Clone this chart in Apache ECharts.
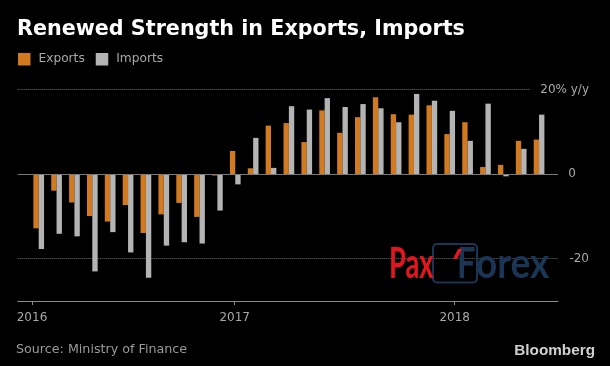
<!DOCTYPE html>
<html>
<head>
<meta charset="utf-8">
<script src="https://cdn.jsdelivr.net/npm/echarts@6/dist/echarts.min.js"></script>
<style>
html,body{margin:0;padding:0;background:#000;}
#c{width:610px;height:366px;}
</style>
</head>
<body>
<div id="c"></div>
<script>
// Monthly data, Jan 2016 .. May 2018 (% y/y)
const months = ['2016-01','2016-02','2016-03','2016-04','2016-05','2016-06','2016-07','2016-08','2016-09','2016-10','2016-11','2016-12',
                '2017-01','2017-02','2017-03','2017-04','2017-05','2017-06','2017-07','2017-08','2017-09','2017-10','2017-11','2017-12',
                '2018-01','2018-02','2018-03','2018-04','2018-05'];
const exportsYoY = [-12.8,-3.9,-6.7,-9.9,-11.2,-7.3,-13.9,-9.5,-6.8,-10.1,-0.3,5.5,
                    1.4,11.5,12.1,7.6,15.1,9.8,13.5,18.2,14.2,14.1,16.3,9.5,
                    12.3,1.7,2.2,7.9,8.2];
const importsYoY = [-17.7,-14.1,-14.7,-23.0,-13.7,-18.5,-24.5,-16.9,-16.1,-16.4,-8.6,-2.4,
                    8.6,1.5,16.1,15.3,18.0,15.9,16.6,15.6,12.3,19.0,17.4,15.0,
                    7.9,16.7,-0.5,6.0,14.1];
const yearLabels = ['2016','2017','2018'];
const yearTickPos = [-0.375, 10.97, 23.28];   // tick positions on the month axis, as drawn in the reference
const yTickValues = [-20, 0, 20];

const chart = echarts.init(document.getElementById('c'), null, {renderer: 'canvas'});

const orange = '#d27a20';
const grey = '#b4b4b4';
const labelGrey = '#a8a8a8';
const navy = '#1b3555';
const red = '#e3161e';

function yearLabelFor(v) {
  let best = 0, bd = Infinity;
  yearTickPos.forEach((p, i) => { const d = Math.abs(p - v); if (d < bd) { bd = d; best = i; } });
  return yearLabels[best];
}

chart.setOption({
  backgroundColor: '#000',
  animation: false,
  title: [
    {text: 'Renewed Strength in Exports, Imports', left: 17, top: 19, padding: 0,
     textStyle: {color: '#fff', fontFamily: 'DejaVu Sans', fontWeight: 'bold', fontSize: 20.7}},
    {text: 'Source: Ministry of Finance', left: 16, top: 343, padding: 0,
     textStyle: {color: '#9a9a9a', fontFamily: 'DejaVu Sans', fontWeight: 'normal', fontSize: 12.7}},
    {text: 'Bloomberg', right: 15, top: 343, padding: 0,
     textStyle: {color: '#d0d0d0', fontFamily: 'Liberation Sans', fontWeight: 'bold', fontSize: 15.3}}
  ],
  legend: {
    left: 18, top: 53, padding: 0, itemWidth: 12.5, itemHeight: 12.5, itemGap: 11, icon: 'rect',
    textStyle: {color: labelGrey, fontFamily: 'DejaVu Sans', fontSize: 12.2, padding: [0, 0, 0, 3]},
    data: ['Exports', 'Imports']
  },
  grid: {left: 17.7, right: 52, top: 89.7, bottom: 65, containLabel: false},
  xAxis: {
    type: 'value', min: -1.175, max: 29.06,
    axisLine: {show: true, onZero: false, lineStyle: {color: '#8a8a8a', width: 1}},
    axisTick: {show: true, length: 4, customValues: yearTickPos, lineStyle: {color: '#8a8a8a'}},
    axisLabel: {customValues: yearTickPos, formatter: yearLabelFor, color: labelGrey,
                fontFamily: 'DejaVu Sans', fontSize: 12, margin: 11},
    splitLine: {show: false}
  },
  yAxis: [
    {type: 'value', position: 'right', min: -30, max: 20,
     axisLine: {show: false}, axisTick: {show: false, customValues: yTickValues},
     axisLabel: {show: false, customValues: yTickValues},
     splitLine: {show: true, lineStyle: {type: 'dotted', color: '#6e6e6e', width: 1}}},
    {type: 'value', position: 'right', min: -30, max: 20, z: 10,
     axisLine: {show: false}, axisTick: {show: false, customValues: yTickValues},
     axisLabel: {customValues: yTickValues, align: 'right', margin: 31, color: labelGrey,
                 fontFamily: 'DejaVu Sans', fontSize: 12,
                 formatter: v => v === 20 ? '{top|20% y/y}' : (v === 0 ? '{zero|0}' : String(v)),
                 rich: {
                   top: {backgroundColor: '#000', padding: [2, 0, 2, 10], color: labelGrey, fontFamily: 'DejaVu Sans', fontSize: 12},
                   zero: {padding: [0, 13, 0, 0], color: labelGrey, fontFamily: 'DejaVu Sans', fontSize: 12}
                 }},
     splitLine: {show: false}}
  ],
  series: [
    {name: 'Exports', type: 'bar', yAxisIndex: 0, barWidth: 5.35, barGap: '0%',
     itemStyle: {color: orange},
     data: months.map((m, i) => [i, exportsYoY[i]]),
     markLine: {silent: true, symbol: 'none', label: {show: false},
                lineStyle: {color: '#7a7a7a', type: 'solid', width: 1},
                data: [{yAxis: 0}]}},
    {name: 'Imports', type: 'bar', yAxisIndex: 0, barWidth: 5.35, barGap: '0%',
     itemStyle: {color: grey},
     data: months.map((m, i) => [i, importsYoY[i]])}
  ],
  graphic: [
    {type: 'rect', shape: {x: 433, y: 244, width: 44, height: 38.5, r: 4},
     style: {fill: 'none', stroke: navy, lineWidth: 2}, z: 20},
    {type: 'text', x: 389, y: 264, scaleX: 0.65, z: 21,
     style: {text: 'Pax', font: 'bold 42px Lato', fill: red, textVerticalAlign: 'middle'}},
    {type: 'text', x: 457, y: 264, scaleX: 0.78, z: 21,
     style: {text: 'F', font: 'bold 42px Lato', fill: navy, textVerticalAlign: 'middle'}},
    {type: 'text', x: 476, y: 264, scaleX: 0.88, z: 21,
     style: {text: 'orex', font: 'bold 42px Lato', fill: navy, textVerticalAlign: 'middle'}},
    {type: 'polygon', z: 22, shape: {points: [[453, 259], [458, 249], [462, 249], [457, 259]]},
     style: {fill: red}}
  ]
});
</script>
</body>
</html>
